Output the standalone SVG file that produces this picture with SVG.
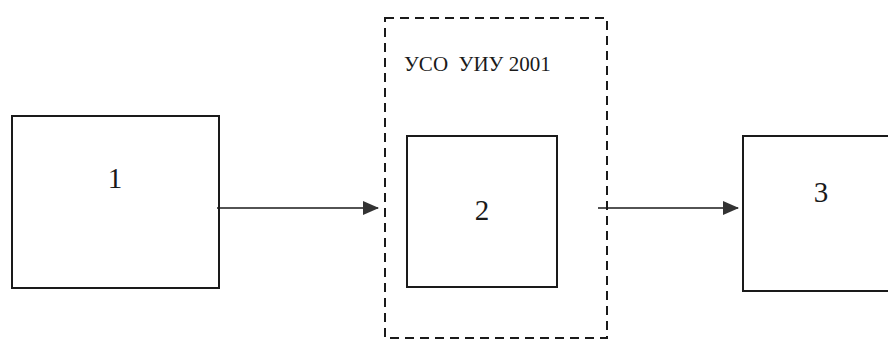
<svg xmlns="http://www.w3.org/2000/svg" width="888" height="339" viewBox="0 0 888 339">
<style>
.box{fill:none;stroke:#1a1a1a;stroke-width:2}
.dash{fill:none;stroke:#1a1a1a;stroke-width:2;stroke-dasharray:9 6}
.lbl{font-family:"Liberation Serif","Times New Roman",serif;fill:#1a1a1a;white-space:pre}
.num{font-size:29px}
.edge{stroke:#1a1a1a;stroke-width:1.6;fill:none}
</style>
<defs>
<marker id="ah" markerWidth="16" markerHeight="14" refX="15" refY="7" orient="auto" markerUnits="userSpaceOnUse">
<path d="M0,0 L16,7 L0,14 Z" fill="#333"/>
</marker>
</defs>
<rect width="888" height="339" fill="#fff"/>
<g id="group-uso">
<rect class="dash" x="385" y="18" width="222" height="320"/>
<text class="lbl" x="404" y="71" font-size="21" xml:space="preserve">УСО  УИУ 2001</text>
</g>
<g id="node1">
<rect class="box" x="12" y="116" width="207" height="172"/>
<text class="lbl num" x="115" y="188" text-anchor="middle">1</text>
</g>
<g id="node2">
<rect class="box" x="407" y="136" width="150" height="151"/>
<text class="lbl num" x="482" y="220" text-anchor="middle">2</text>
</g>
<g id="node3">
<rect class="box" x="743" y="136" width="160" height="155"/>
<text class="lbl num" x="821" y="202" text-anchor="middle">3</text>
</g>
<g id="connectors">
<line class="edge" x1="217" y1="208" x2="378" y2="208" marker-end="url(#ah)"/>
<line class="edge" x1="598" y1="208" x2="738" y2="208" marker-end="url(#ah)"/>
</g>
</svg>
